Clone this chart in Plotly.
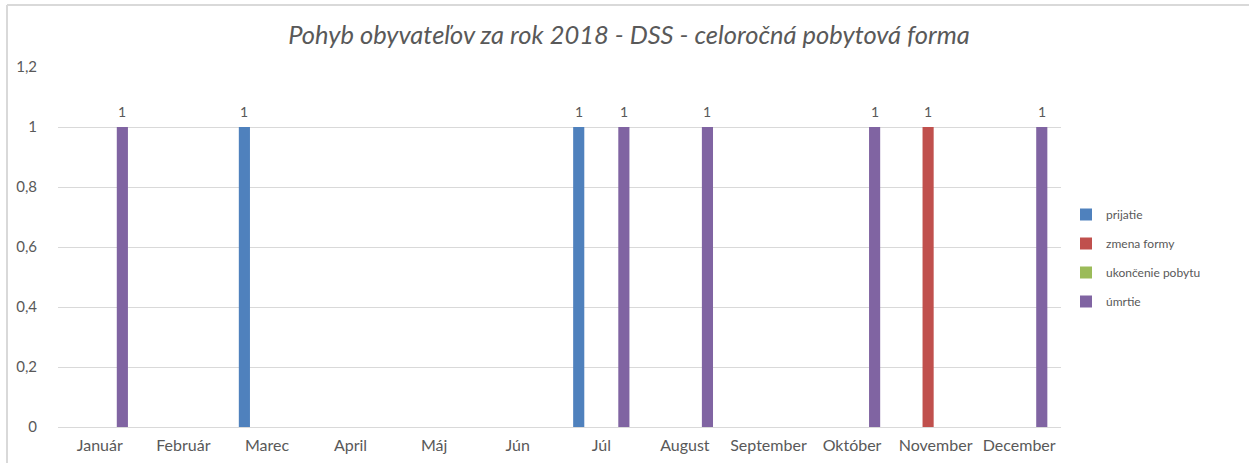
import plotly.graph_objects as go

months = ["Január", "Február", "Marec", "April", "Máj", "Jún", "Júl",
          "August", "September", "Október", "November", "December"]
prijatie = [None, None, 1, None, None, None, 1, None, None, None, None, None]
zmena_formy = [None, None, None, None, None, None, None, None, None, None, 1, None]
ukoncenie_pobytu = [None] * 12
umrtie = [1, None, None, None, None, None, 1, 1, None, 1, None, 1]

series = [
    ("prijatie", prijatie, "#4F81BD"),
    ("zmena formy", zmena_formy, "#C0504D"),
    ("ukončenie pobytu", ukoncenie_pobytu, "#9BBB59"),
    ("úmrtie", umrtie, "#8064A2"),
]

FONT = "Lato, Calibri, sans-serif"
GRAY = "#595959"

W, H = 1249, 463
L, R, T, B = 58, 188, 67, 36
pw, ph = W - L - R, H - T - B
BARGAP = 0.28
BARGROUPGAP = 0.26
slot = pw / len(months) * (1 - BARGAP) / len(series)

fig = go.Figure()
annotations = []
for i, (name, vals, color) in enumerate(series):
    fig.add_trace(go.Bar(
        x=months, y=vals, name=name,
        marker=dict(color=color, line=dict(width=0)),
        legendgroup=str(i),
    ))
    for m, v in zip(months, vals):
        if v is None:
            continue
        annotations.append(dict(
            x=m, y=v, xref="x", yref="y", text=str(v), showarrow=False,
            xshift=(i - (len(series) - 1) / 2) * slot,
            yanchor="bottom", yshift=5,
            font=dict(size=14, color=GRAY, family=FONT),
        ))


def px(x):
    return (x - L) / pw


def py(y):
    return (H - B - y) / ph


fig.update_layout(
    width=W, height=H,
    margin=dict(l=L, r=R, t=T, b=B),
    paper_bgcolor="white", plot_bgcolor="white",
    separators=", ",
    barmode="group",
    bargap=BARGAP,
    bargroupgap=BARGROUPGAP,
    font=dict(family=FONT, color=GRAY, size=15),
    title=dict(
        text="<i>Pohyb obyvateľov za rok 2018 - DSS - celoročná pobytová forma</i>",
        x=629 / W, xanchor="center", y=1 - 35 / H, yanchor="middle",
        font=dict(size=25.5, color=GRAY, family=FONT),
    ),
    legend=dict(
        x=px(1066), xanchor="left", y=py(258), yanchor="middle",
        font=dict(size=12, color=GRAY, family=FONT),
        tracegroupgap=10,
        itemwidth=30,
        bgcolor="rgba(0,0,0,0)",
    ),
    showlegend=True,
    annotations=annotations,
    xaxis=dict(
        showgrid=False, showline=True, linecolor="#D9D9D9", linewidth=1,
        ticks="", tickfont=dict(size=16, color=GRAY, family=FONT),
        ticklabelstandoff=4, automargin=False,
    ),
    yaxis=dict(
        range=[0, 1.2], dtick=0.2, tick0=0,
        showgrid=True, gridcolor="#D9D9D9", gridwidth=1,
        zeroline=True, zerolinecolor="#D9D9D9", zerolinewidth=1,
        showline=False, ticks="",
        tickfont=dict(size=15, color=GRAY, family=FONT),
        ticklabelstandoff=20, automargin=False,
        tickformat=".1~f",
    ),
    shapes=[
        dict(type="line", xref="paper", yref="paper",
             x0=px(7), x1=px(7), y0=py(5), y1=py(470),
             line=dict(color="#D9D9D9", width=2)),
        dict(type="line", xref="paper", yref="paper",
             x0=px(7), x1=px(1260), y0=py(5), y1=py(5),
             line=dict(color="#D9D9D9", width=2)),
    ],
)

fig.write_html("out.html", config={"displayModeBar": False},
               post_script="document.body.style.margin='0px';")
